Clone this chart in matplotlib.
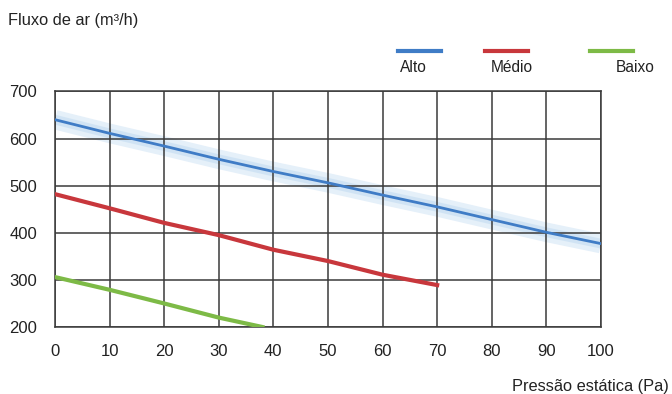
import matplotlib
matplotlib.use("Agg")
import matplotlib.pyplot as plt
from matplotlib.lines import Line2D

plt.rcParams['font.family'] = ['Liberation Sans', 'DejaVu Sans']

pressure_alto = [0, 10, 20, 30, 40, 50, 60, 70, 80, 90, 100]
flow_alto = [640, 611, 584, 556, 530, 506, 480, 455, 428, 401, 377]
pressure_medio = [0, 10, 20, 30, 40, 50, 60, 70]
flow_medio = [482, 452, 421, 395, 364, 340, 311, 289]
pressure_baixo = [0, 10, 20, 30, 38]
flow_baixo = [306, 279, 250, 220, 200]

x_ticks = [0, 10, 20, 30, 40, 50, 60, 70, 80, 90, 100]
y_ticks = [200, 300, 400, 500, 600, 700]
series_labels = ["Alto", "Médio", "Baixo"]
colors = ["#3f7cc6", "#c8373c", "#7dba46"]

fig = plt.figure(figsize=(6.72, 3.94), dpi=100)
ax = fig.add_axes([0.0818, 0.170, 0.8125, 0.598])

# soft glow band behind the blue line
ax.plot(pressure_alto, flow_alto, color="#d4e6f6", lw=14, alpha=0.6,
        solid_capstyle="butt", zorder=2)
ax.plot(pressure_alto, flow_alto, color="#bcd8f0", lw=7, alpha=0.5,
        solid_capstyle="butt", zorder=2)
ax.plot(pressure_alto, flow_alto, color=colors[0], lw=2.0, zorder=4)
ax.plot(pressure_medio, flow_medio, color=colors[1], lw=3.0, zorder=4)
ax.plot(pressure_baixo, flow_baixo, color=colors[2], lw=3.0, zorder=4)

ax.set_xlim(0, 100)
ax.set_ylim(200, 700)
ax.set_xticks(x_ticks)
ax.set_yticks(y_ticks)
ax.grid(True, color="#3a3a3a", lw=1.1, zorder=3)
ax.set_axisbelow(False)
for s in ax.spines.values():
    s.set_color("#3a3a3a")
    s.set_linewidth(1.1)
    s.set_zorder(3)
ax.tick_params(length=0, labelsize=12, colors="#222222")
ax.tick_params(axis='x', pad=12)
ax.tick_params(axis='y', pad=13)

fig.text(8/672, 1-20/394, "Fluxo de ar (m³/h)", fontsize=11.8, color="#222222",
         ha="left", va="center")
fig.text(669/672, 1-386/394, "Pressão estática (Pa)", fontsize=11.8, color="#222222",
         ha="right", va="center")

# legend
leg_lines = [(398, 441), (485, 528), (590, 633)]
leg_text_x = [413, 512, 635]
for (x0, x1), tx, lab, c in zip(leg_lines, leg_text_x, series_labels, colors):
    fig.add_artist(Line2D([x0/672, x1/672], [1-51/394, 1-51/394], color=c,
                          lw=3, transform=fig.transFigure))
    fig.text(tx/672, 1-68/394, lab, fontsize=11.2, color="#222222",
             ha="center", va="center")

fig.savefig("out.png", dpi=100)
